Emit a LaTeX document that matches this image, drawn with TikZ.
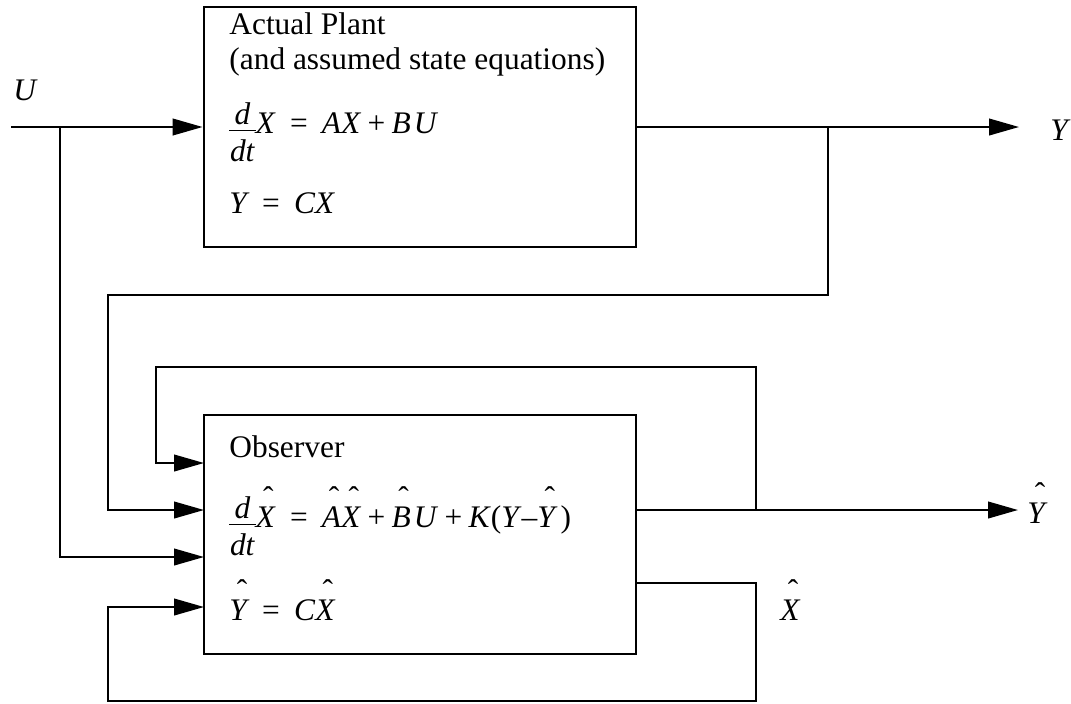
\documentclass[tikz,border=0pt]{standalone}
\usepackage{fontspec}
\setmainfont{Liberation Serif}
\usetikzlibrary{arrows.meta}
\newcommand\fs{\fontsize{15.7}{19}\selectfont}
\newcommand\myhat[1]{\setbox0\hbox{#1}\rlap{\hbox to\wd0{\hss\kern0.16em\raisebox{0.58em}{ˆ}\hss}}\box0}
\newcommand\myddt{\setbox1\hbox{\kern0.02em\textit{dt}\kern0.02em}%
\rlap{\raisebox{0.26em}{\hbox to\wd1{\hss\textit{d}\hss}}}%
\rlap{\raisebox{0.05em}{\rule{\wd1}{0.045em}}}%
\raisebox{-0.92em}{\box1}}
\tikzset{
  blk/.style={draw, line width=1.4pt, minimum width=216pt, inner sep=0pt},
  txt/.style={anchor=base west, inner sep=0pt, font=\fs},
  wire/.style={line width=1.1pt},
  arr/.style={wire, -{Triangle[length=15pt,width=8.3pt]}},
}
\begin{document}
\begin{tikzpicture}[x=0.5pt,y=-0.5pt]
\useasboundingbox (0,0) rectangle (1071,703);
% blocks
\node[blk, minimum height=120pt] (plant) at (420,127) {};
\node[blk, minimum height=119.5pt] (obs) at (420,534.5) {};
% texts in plant
\node[txt] (ptitle) at (229,34) {Actual Plant};
\node[txt] (psub) at (229,69) {(and assumed state equations)};
\node[txt] (peq1) at (229,133) {\myddt\textit{X}\hspace{0.45em}=\hspace{0.45em}\textit{AX}\hspace{0.2em}+\hspace{0.2em}\textit{B}\hspace{0.1em}\textit{U}};
\node[txt] (peq2) at (229,213) {\textit{Y}\hspace{0.4em}=\hspace{0.45em}\textit{CX}};
% texts in observer
\node[txt] (otitle) at (229,457) {Observer};
\node[txt] (oeq1) at (229,527) {\myddt\myhat{\textit{X}}\hspace{0.45em}=\hspace{0.45em}\myhat{\textit{A}}\myhat{\textit{X}}\hspace{0.2em}+\hspace{0.2em}\myhat{\textit{B}}\hspace{0.1em}\textit{U}\hspace{0.2em}+\hspace{0.2em}\textit{K}(\textit{Y}–\myhat{\textit{Y}}\hspace{0.1em})};
\node[txt] (oeq2) at (229,620) {\myhat{\textit{Y}}\hspace{0.4em}=\hspace{0.45em}\textit{C}\myhat{\textit{X}}};
% outside labels
\node[txt] (lu) at (13,100) {\textit{U}};
\node[txt] (ly) at (1050,140) {\textit{Y}};
\node[txt] (lyh) at (1027,523) {\myhat{\textit{Y}}};
\node[txt] (lxh) at (780,620) {\myhat{\textit{X}}};
% coordinates
\coordinate (uin) at (11,127);
\coordinate (uj) at (60,127);
\coordinate (yj) at (828,127);
\coordinate (yout) at (1019,127);
\coordinate (c1) at (108,295);
\coordinate (c2) at (156,367);
\coordinate (oin1) at (204,463);
\coordinate (oin2) at (204,510);
\coordinate (oin3) at (204,557);
\coordinate (oin4) at (204,607);
\coordinate (oout1) at (636,510);
\coordinate (oout2) at (636,583);
\coordinate (yhj) at (756,510);
\coordinate (yhout) at (1018,510);
\coordinate (c3) at (756,701);
\coordinate (c4) at (108,701);
% connectors
\draw[arr] (uin) -- (plant.west);
\draw[arr] (uj) |- (oin3);
\draw[arr] (plant.east) -- (yout);
\draw[arr] (yj) |- (c1) |- (oin2);
\draw[arr] (oout1) -- (yhout);
\draw[arr] (yhj) |- (c2) |- (oin1);
\draw[arr] (oout2) -| (c3) -- (c4) |- (oin4);
\end{tikzpicture}
\end{document}
